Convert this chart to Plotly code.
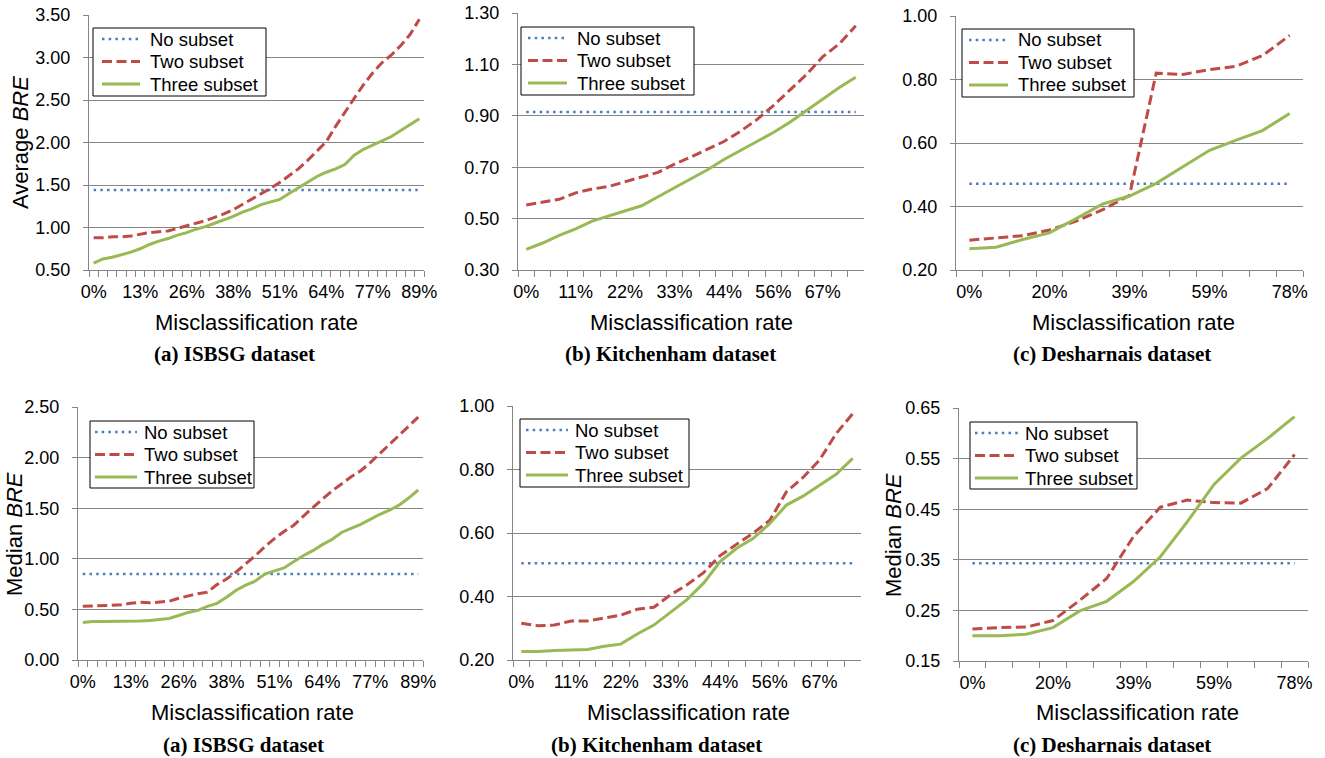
import plotly.graph_objects as go

W, H = 1325, 758

# ---------------- categories (misclassification rates) ----------------
isbsg_rates = ["0%", "3%", "5%", "8%", "10%", "13%", "15%", "18%", "20%", "23%",
               "26%", "28%", "31%", "33%", "36%", "38%", "41%", "43%", "46%", "48%",
               "51%", "54%", "56%", "59%", "61%", "64%", "66%", "69%", "71%", "74%",
               "77%", "79%", "82%", "84%", "87%", "89%"]
isbsg_ticks = ["0%", "13%", "26%", "38%", "51%", "64%", "77%", "89%"]

kitchenham_rates = ["0%", "4%", "7%", "11%", "15%", "19%", "22%", "26%", "30%", "33%",
                    "37%", "41%", "44%", "48%", "52%", "56%", "59%", "63%", "67%", "70%", "74%"]
kitchenham_ticks = ["0%", "11%", "22%", "33%", "44%", "56%", "67%"]

desharnais_rates = ["0%", "7%", "13%", "20%", "26%", "33%", "39%", "46%", "52%", "59%",
                    "65%", "72%", "78%"]
desharnais_ticks = ["0%", "20%", "39%", "59%", "78%"]

# ---------------- Average BRE ----------------
isbsg_avg_none = 1.44
isbsg_avg_two = [0.88, 0.88, 0.89, 0.89, 0.90, 0.92, 0.94, 0.95, 0.96, 0.99,
                 1.02, 1.05, 1.08, 1.12, 1.16, 1.21, 1.27, 1.33, 1.39, 1.46,
                 1.53, 1.61, 1.69, 1.79, 1.90, 2.01, 2.19, 2.36, 2.52, 2.68,
                 2.82, 2.94, 3.03, 3.14, 3.27, 3.45]
isbsg_avg_three = [0.58, 0.63, 0.65, 0.68, 0.71, 0.75, 0.80, 0.84, 0.87, 0.91,
                   0.94, 0.98, 1.01, 1.05, 1.09, 1.13, 1.18, 1.22, 1.27, 1.30,
                   1.33, 1.40, 1.47, 1.54, 1.60, 1.65, 1.69, 1.74, 1.85, 1.92,
                   1.97, 2.02, 2.07, 2.14, 2.21, 2.28]

kitchenham_avg_none = 0.915
kitchenham_avg_two = [0.553, 0.565, 0.575, 0.60, 0.615, 0.625, 0.645, 0.662, 0.68, 0.712,
                      0.74, 0.77, 0.80, 0.84, 0.885, 0.94, 1.00, 1.06, 1.13, 1.18, 1.25]
kitchenham_avg_three = [0.38, 0.405, 0.435, 0.46, 0.49, 0.51, 0.53, 0.55, 0.585, 0.62,
                        0.655, 0.69, 0.73, 0.765, 0.80, 0.835, 0.875, 0.92, 0.965, 1.01, 1.05]

desharnais_avg_none = 0.472
desharnais_avg_two = [0.294, 0.30, 0.308, 0.326, 0.354, 0.39, 0.435, 0.82, 0.816, 0.831,
                      0.842, 0.876, 0.939]
desharnais_avg_three = [0.267, 0.272, 0.296, 0.317, 0.362, 0.408, 0.433, 0.473, 0.525, 0.577,
                        0.609, 0.64, 0.693]

# ---------------- Median BRE ----------------
isbsg_med_none = 0.85
isbsg_med_two = [0.53, 0.535, 0.54, 0.54, 0.545, 0.56, 0.57, 0.565, 0.57, 0.58,
                 0.61, 0.635, 0.655, 0.67, 0.745, 0.80, 0.87, 0.95, 1.03, 1.12,
                 1.20, 1.27, 1.33, 1.42, 1.51, 1.59, 1.67, 1.74, 1.81, 1.87,
                 1.95, 2.04, 2.13, 2.21, 2.30, 2.40]
isbsg_med_three = [0.37, 0.38, 0.38, 0.38, 0.38, 0.385, 0.385, 0.39, 0.40, 0.41,
                   0.44, 0.47, 0.49, 0.53, 0.56, 0.62, 0.69, 0.74, 0.78, 0.85,
                   0.88, 0.91, 0.97, 1.03, 1.08, 1.14, 1.19, 1.26, 1.30, 1.34,
                   1.39, 1.44, 1.48, 1.53, 1.60, 1.68]

kitchenham_med_none = 0.505
kitchenham_med_two = [0.316, 0.308, 0.31, 0.323, 0.323, 0.331, 0.341, 0.36, 0.366, 0.405,
                      0.437, 0.475, 0.529, 0.565, 0.60, 0.64, 0.73, 0.775, 0.83, 0.913, 0.976]
kitchenham_med_three = [0.227, 0.227, 0.23, 0.232, 0.233, 0.243, 0.25, 0.282, 0.31, 0.35,
                        0.39, 0.442, 0.51, 0.552, 0.583, 0.63, 0.688, 0.716, 0.751, 0.785, 0.835]

desharnais_med_none = 0.343
desharnais_med_two = [0.213, 0.216, 0.217, 0.23, 0.27, 0.313, 0.396, 0.454, 0.468, 0.463,
                      0.462, 0.491, 0.558]
desharnais_med_three = [0.20, 0.20, 0.203, 0.216, 0.249, 0.268, 0.307, 0.356, 0.425, 0.499,
                        0.551, 0.59, 0.633]

series_names = ["No subset", "Two subset", "Three subset"]
captions = ["(a) ISBSG dataset", "(b) Kitchenham dataset", "(c) Desharnais dataset"]
x_title = "Misclassification rate"

# ---------------- styling / layout ----------------
BLUE, RED, GREEN = "#4A7EBB", "#BE4B48", "#98B954"
GRID = "#868686"
SANS = "Liberation Sans, Arial, sans-serif"
SERIF = "Liberation Serif, Times New Roman, serif"
STYLES = [dict(color=BLUE, width=2.5, dash="2.5px,4.2px"),
          dict(color=RED, width=3, dash="10px,4.5px"),
          dict(color=GREEN, width=3)]

# plot box px (l, r, t, b); legend px (left, top, width, height, line x0, line x1, text x)
panels = [
    dict(cats=isbsg_rates, ticks=isbsg_ticks, none=isbsg_avg_none, two=isbsg_avg_two,
         three=isbsg_avg_three, yr=(0.5, 3.5), dt=0.5, box=(89, 424, 15, 270),
         leg=(93, 28, 173, 68, 9, 47, 55),
         ytitle="Average <i>BRE</i>", ytpos=(20, 143), xtpos=(256, 322), cap=(235, 354), capi=0),
    dict(cats=kitchenham_rates, ticks=kitchenham_ticks, none=kitchenham_avg_none, two=kitchenham_avg_two,
         three=kitchenham_avg_three, yr=(0.3, 1.3), dt=0.2, box=(518, 864, 13, 270),
         leg=(521, 27, 173, 68, 7, 46, 54),
         ytitle=None, xtpos=(691, 322), cap=(670, 354), capi=1),
    dict(cats=desharnais_rates, ticks=desharnais_ticks, none=desharnais_avg_none, two=desharnais_avg_two,
         three=desharnais_avg_three, yr=(0.2, 1.0), dt=0.2, box=(956, 1303, 16, 270),
         leg=(962, 29, 172, 68, 7, 46, 54),
         ytitle=None, xtpos=(1133, 322), cap=(1112, 354), capi=2),
    dict(cats=isbsg_rates, ticks=isbsg_ticks, none=isbsg_med_none, two=isbsg_med_two,
         three=isbsg_med_three, yr=(0.0, 2.5), dt=0.5, box=(78, 423, 407, 660),
         leg=(90, 421, 164, 67, 5, 47, 52),
         ytitle="Median <i>BRE</i>", ytpos=(14, 534), xtpos=(252, 712), cap=(243, 745), capi=0),
    dict(cats=kitchenham_rates, ticks=kitchenham_ticks, none=kitchenham_med_none, two=kitchenham_med_two,
         three=kitchenham_med_three, yr=(0.2, 1.0), dt=0.2, box=(513, 861, 406, 660),
         leg=(520, 419, 169, 68, 6, 48, 53),
         ytitle=None, xtpos=(688, 712), cap=(656, 745), capi=1),
    dict(cats=desharnais_rates, ticks=desharnais_ticks, none=desharnais_med_none, two=desharnais_med_two,
         three=desharnais_med_three, yr=(0.15, 0.65), dt=0.1, box=(959, 1308, 408, 661),
         leg=(970, 422, 167, 67, 5, 48, 53),
         ytitle="Median <i>BRE</i>", ytpos=(893, 535), xtpos=(1137, 712), cap=(1112, 745), capi=2),
]
ROW_OFFSETS = [11, 33.5, 56]   # legend rows, px below the legend box top


def px(x):
    return x / W


def py(y):
    return 1 - y / H


fig = go.Figure()
layout = dict(width=W, height=H, margin=dict(l=0, r=0, t=0, b=0, autoexpand=False),
              paper_bgcolor="white", plot_bgcolor="white", showlegend=False,
              font=dict(family=SANS, size=18, color="black"),
              annotations=[], shapes=[])

for k, p in enumerate(panels, start=1):
    xa = "x" if k == 1 else f"x{k}"
    ya = "y" if k == 1 else f"y{k}"
    cats = p["cats"]
    ys = [[p["none"]] * len(cats), p["two"], p["three"]]
    for name, y, st in zip(series_names, ys, STYLES):
        fig.add_trace(go.Scatter(x=cats, y=y, name=name, mode="lines", line=st,
                                 xaxis=xa, yaxis=ya, hoverinfo="skip"))

    l, r, t, b = p["box"]
    layout["xaxis" if k == 1 else f"xaxis{k}"] = dict(
        domain=[px(l), px(r)], anchor=ya, type="category", automargin=False,
        categoryorder="array", categoryarray=cats, range=[-0.5, len(cats) - 0.5],
        tickmode="array", tickvals=cats, tickangle=0,
        ticktext=[c if c in p["ticks"] else "" for c in cats],
        tickson="boundaries", ticks="outside", ticklen=6, tickcolor=GRID, tickwidth=1,
        showline=True, linecolor=GRID, linewidth=1, showgrid=False, zeroline=False,
        tickfont=dict(family=SANS, size=18, color="black"), ticklabelstandoff=5)
    lo, hi = p["yr"]
    layout["yaxis" if k == 1 else f"yaxis{k}"] = dict(
        domain=[py(b), py(t)], anchor=xa, range=[lo, hi + 1e-6], automargin=False,
        tickmode="linear", tick0=lo, dtick=p["dt"], tickformat=".2f",
        ticks="outside", ticklen=5, tickcolor=GRID, tickwidth=1,
        showline=True, linecolor=GRID, linewidth=1,
        showgrid=True, gridcolor=GRID, gridwidth=1, zeroline=False,
        tickfont=dict(family=SANS, size=18, color="black"), ticklabelstandoff=9)

    # legend box (drawn per panel, as in the original figure)
    lx, ly, lw, lh, s0, s1, tx = p["leg"]
    layout["shapes"].append(dict(type="rect", xref="paper", yref="paper",
                                 x0=px(lx), x1=px(lx + lw), y0=py(ly + lh), y1=py(ly),
                                 line=dict(color="black", width=1), fillcolor="white", layer="above"))
    for name, st, dy in zip(series_names, STYLES, ROW_OFFSETS):
        layout["shapes"].append(dict(type="line", xref="paper", yref="paper",
                                     x0=px(lx + s0), x1=px(lx + s1), y0=py(ly + dy), y1=py(ly + dy),
                                     line=st, layer="above"))
        layout["annotations"].append(dict(
            text=name, x=px(lx + tx), y=py(ly + dy), xref="paper", yref="paper",
            xanchor="left", yanchor="middle", showarrow=False,
            font=dict(family=SANS, size=18.5, color="black")))

    if p.get("ytitle"):
        cx, cy = p["ytpos"]
        layout["annotations"].append(dict(
            text=p["ytitle"], x=px(cx), y=py(cy), xref="paper", yref="paper",
            xanchor="center", yanchor="middle", showarrow=False, textangle=-90,
            font=dict(family=SANS, size=22, color="black")))
    cx, cy = p["xtpos"]
    layout["annotations"].append(dict(
        text=x_title, x=px(cx), y=py(cy), xref="paper", yref="paper",
        xanchor="center", yanchor="middle", showarrow=False,
        font=dict(family=SANS, size=22, color="black")))
    cx, cy = p["cap"]
    layout["annotations"].append(dict(
        text="<b>" + captions[p["capi"]] + "</b>", x=px(cx), y=py(cy),
        xref="paper", yref="paper", xanchor="center", yanchor="middle", showarrow=False,
        font=dict(family=SERIF, size=21, color="black")))

fig.update_layout(**layout)
fig.write_html("out.html", post_script="document.body.style.margin='0';",
               config={"displayModeBar": False})
